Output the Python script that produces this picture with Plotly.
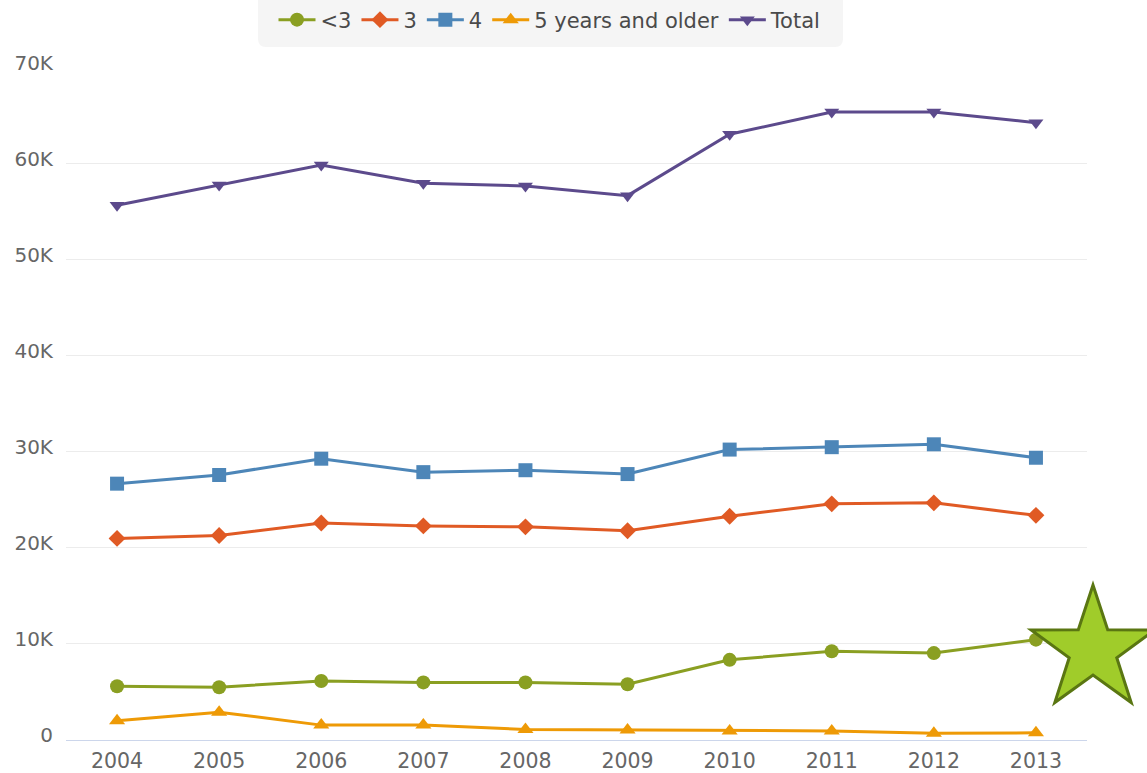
import plotly.graph_objects as go
import math

# ---- data ----
years = ["2004", "2005", "2006", "2007", "2008", "2009", "2010", "2011", "2012", "2013"]
under3 = [5600, 5500, 6150, 6000, 6000, 5800, 8350, 9250, 9050, 10450]
age3 = [21000, 21300, 22600, 22300, 22200, 21800, 23300, 24600, 24700, 23400]
age4 = [26700, 27600, 29300, 27900, 28100, 27700, 30250, 30500, 30800, 29400]
age5plus = [2000, 2900, 1550, 1550, 1100, 1050, 950, 950, 700, 750]
total = [55700, 57800, 59900, 58000, 57700, 56700, 63100, 65400, 65400, 64300]

series_names = ["<3", "3", "4", "5 years and older", "Total"]
y_tickvals = [0, 10000, 20000, 30000, 40000, 50000, 60000, 70000]
y_ticktext = ["0", "10K", "20K", "30K", "40K", "50K", "60K", "70K"]

colors = ["#8a9f22", "#e05a24", "#4d86b8", "#ee9a06", "#5c4a8c"]
symbols = ["circle", "diamond", "square", "triangle-up", "triangle-down"]
sizes = [14, 13, 14, 14, 13]

FONT = "DejaVu Sans"
W, H = 1147, 773
YMAX = 70100
L, R, B = 66, 60, 33
T = 67

fig = go.Figure()
for name, vals, c, s, sz in zip(series_names, [under3, age3, age4, age5plus, total], colors, symbols, sizes):
    fig.add_trace(go.Scatter(
        x=years, y=vals, name=name, mode="lines+markers",
        line=dict(color=c, width=3),
        marker=dict(symbol=s, size=sz, color=c),
    ))

# pixel -> paper conversion for decorations
pw = W - L - R
ph = H - T - B
def px(x):
    return (x - L) / pw
def py(y):
    return (H - B - y) / ph

# decorative star
cx, cy, Ro, Ri = 1093, 650, 65, 25
pts = []
for k in range(10):
    ang = math.radians(90 + k * 36)
    r = Ro if k % 2 == 0 else Ri
    pts.append((cx + r * math.cos(ang), cy - r * math.sin(ang)))
star_path = "M " + " L ".join(f"{px(x):.5f},{py(y):.5f}" for x, y in pts) + " Z"

# legend background box with rounded corners
x0, x1, y0, y1, rr = 258, 843, -10, 47, 8
box = [
    ("M", x0 + rr, y0), ("L", x1 - rr, y0), ("Q", x1, y0, x1, y0 + rr), ("L", x1, y1 - rr),
    ("Q", x1, y1, x1 - rr, y1), ("L", x0 + rr, y1), ("Q", x0, y1, x0, y1 - rr),
    ("L", x0, y0 + rr), ("Q", x0, y0, x0 + rr, y0),
]
parts = []
for seg in box:
    cmd = seg[0]
    coords = seg[1:]
    cs = []
    for i in range(0, len(coords), 2):
        cs.append(f"{px(coords[i]):.5f},{py(coords[i+1]):.5f}")
    parts.append(cmd + " " + " ".join(cs))
box_path = " ".join(parts) + " Z"

fig.update_layout(
    width=W, height=H,
    margin=dict(l=L, r=R, t=T, b=B, autoexpand=False),
    paper_bgcolor="white", plot_bgcolor="white",
    font=dict(family=FONT, color="#666666"),
    showlegend=True,
    legend=dict(
        orientation="h", xanchor="center", yanchor="middle",
        x=px(550), y=py(20),
        bgcolor="rgba(0,0,0,0)", borderwidth=0,
        font=dict(family=FONT, size=21, color="#4a4a4a"),
        itemwidth=37,
    ),
    shapes=[
        dict(type="path", path=box_path, xref="paper", yref="paper",
             fillcolor="#f5f5f5", line=dict(width=0), layer="below"),
        dict(type="path", path=star_path, xref="paper", yref="paper",
             fillcolor="#a0cc2a", line=dict(color="#5a7612", width=3), layer="above"),
    ],
)
fig.update_xaxes(
    type="category", range=[-0.5, len(years) - 0.5],
    showgrid=False, zeroline=False,
    showline=True, linecolor="#ccd6eb", linewidth=1,
    ticks="", tickfont=dict(family=FONT, size=20.5, color="#666666"),
    ticklabelstandoff=2,
)
fig.update_yaxes(
    range=[0, YMAX], tickvals=y_tickvals, ticktext=y_ticktext,
    showgrid=True, gridcolor="#ececec", gridwidth=1, zeroline=False,
    showline=False, ticks="",
    tickfont=dict(family=FONT, size=20, color="#666666"),
    ticklabelstandoff=12, ticklabelshift=-5,
)

fig.write_html("out.html", config={"displayModeBar": False},
               post_script="document.body.style.margin='0';")
